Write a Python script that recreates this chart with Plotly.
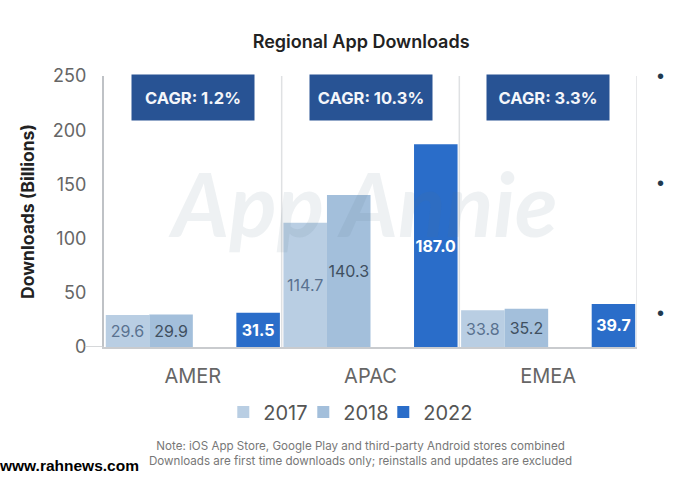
import plotly.graph_objects as go

regions = ["AMER", "APAC", "EMEA"]
values_2017 = [29.6, 114.7, 33.8]
values_2018 = [29.9, 140.3, 35.2]
values_2022 = [31.5, 187.0, 39.7]
cagr_labels = ["CAGR: 1.2%", "CAGR: 10.3%", "CAGR: 3.3%"]
y_ticks = [0, 50, 100, 150, 200, 250]
notes = "Note: iOS App Store, Google Play and third-party Android stores combined<br>Downloads are first time downloads only; reinstalls and updates are excluded"

FONT = "Inter"
fig = go.Figure()


def add(name, vals, color, tcolor, bold=False):
    fig.add_trace(go.Bar(
        name=name, x=regions, y=vals, marker=dict(color=color, line_width=0),
        texttemplate="%{y:.1f}", textposition="inside", insidetextanchor="middle",
        textangle=0, constraintext="none",
        textfont=dict(family=FONT, size=16, color=tcolor, weight=700 if bold else 400),
    ))


add("2017", values_2017, "#b9cee3", "#5a7290")
add("2018", values_2018, "#a3bfdb", "#3f4f60")
fig.add_trace(go.Bar(name=" ", x=regions, y=[None] * 3, showlegend=True, legendrank=2000,
                     marker=dict(color="rgba(0,0,0,0)", line_width=0)))
add("2022", values_2022, "#2a6dc9", "#ffffff", True)

ann = []
for r, t in zip(regions, cagr_labels):
    ann.append(dict(x=r, y=1, xref="x", yref="paper", yanchor="top", yshift=2, text=t, showarrow=False,
                    width=120, height=43, bgcolor="#285394", valign="middle",
                    font=dict(family=FONT, size=16.5, color="#f4f6fa", weight=700)))
ann.append(dict(x=1, xshift=-8, y=0.53, xref="x", yref="paper", text="App Annie", showarrow=False,
                font=dict(family="Lato", size=88, color="rgba(90,115,135,0.10)",
                          style="italic", weight=700)))
for frac in [1.0, 0.605, 0.125]:
    ann.append(dict(x=1.0, xshift=23, y=frac, xref="paper", yref="paper", xanchor="center", yanchor="middle",
                    text="•", showarrow=False,
                    font=dict(family="Liberation Sans", size=20, color="#1f3a50")))
ann.append(dict(x=0.482, y=-0.333, xref="paper", yref="paper", yanchor="top", text=notes, showarrow=False,
                font=dict(family=FONT, size=11.6, color="#777777")))
ann.append(dict(x=-0.195, xshift=-3, y=-0.439, xref="paper", yref="paper", xanchor="left", yanchor="middle",
                text="www.rahnews.com", showarrow=False,
                font=dict(family="Liberation Sans", size=15.5, color="#000000", weight=700)))

shapes = [dict(type="line", xref="x", yref="paper", x0=i + 0.5, x1=i + 0.5, y0=0, y1=1,
               line=dict(color="#dfe1e3", width=1.5), layer="below") for i in range(3)]
shapes.append(dict(type="line", xref="paper", yref="y", x0=-0.036, x1=0, y0=0, y1=0,
                   line=dict(color="#c9cbce", width=1.5)))

fig.update_layout(
    width=680, height=480, margin=dict(l=104, r=43, t=76, b=133),
    paper_bgcolor="white", plot_bgcolor="white",
    barmode="group", bargap=0.02, bargroupgap=0,
    title=dict(text="Regional App Downloads", x=0.531, xanchor="center", y=0.9125, yanchor="middle",
               font=dict(family=FONT, size=18, color="#222222", weight=600)),
    xaxis=dict(categoryorder="array", categoryarray=regions, range=[-0.5, 2.5], showgrid=False,
               ticks="", showline=True, linecolor="#c9cbce", linewidth=1.5, ticklabelstandoff=10,
               tickfont=dict(family=FONT, size=20, color="#666666")),
    yaxis=dict(range=[0, 250], tickvals=y_ticks, showgrid=False, zeroline=False,
               ticks="", ticklabelstandoff=12, showline=True,
               linecolor="#bfc2c6", linewidth=2,
               tickfont=dict(family=FONT, size=18, color="#666666"),
               title=dict(text="Downloads (Billions)", standoff=14,
                          font=dict(family=FONT, size=17.5, color="#222222", weight=700))),
    legend=dict(orientation="h", x=0.524, xanchor="center", y=-0.24, yanchor="middle",
                font=dict(family=FONT, size=20, color="#555555"), itemwidth=30, traceorder="normal",
                entrywidth=35, entrywidthmode="pixels"),
    annotations=ann, shapes=shapes, showlegend=True,
)
fig.write_html("out.html", post_script="document.body.style.margin='0';", config={"displayModeBar": False})
